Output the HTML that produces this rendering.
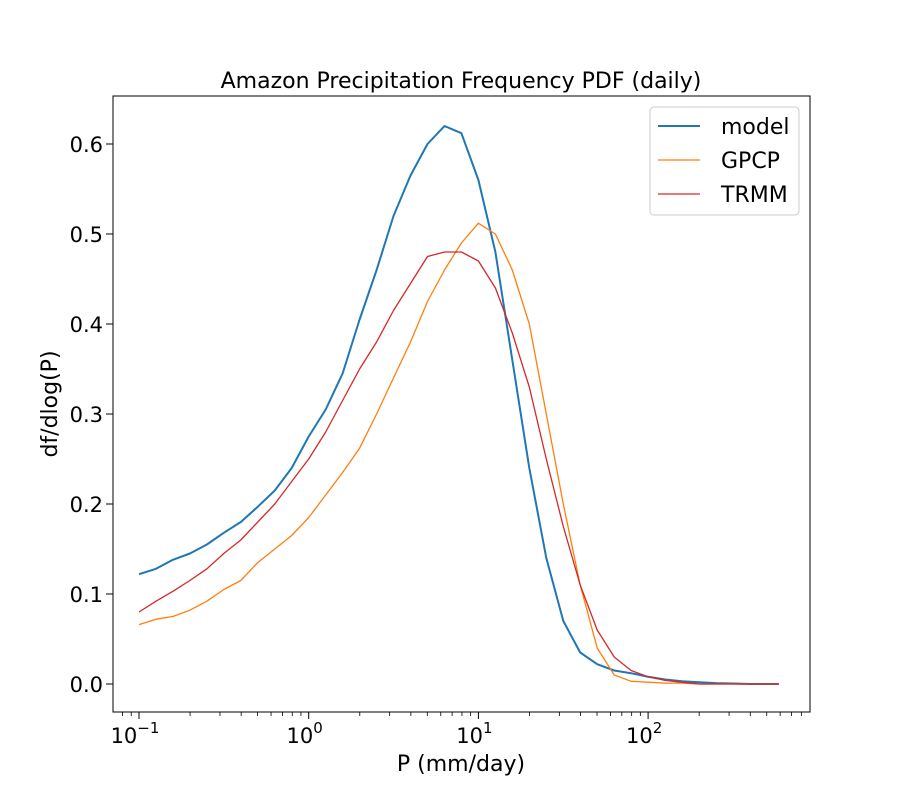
<!DOCTYPE html>
<html><head><meta charset="utf-8"><style>
body{margin:0;background:#fff}
svg{font-family:"DejaVu Sans","Liberation Sans",sans-serif}
</style></head><body>
<svg id="chart" width="900" height="800">
<rect width="900" height="800" fill="#fff"/>
<text x="461" y="88" font-size="22" text-anchor="middle">Amazon Precipitation Frequency PDF (daily)</text>
<g id="axes"></g>
<g id="series"></g>
<rect x="113" y="96" width="697" height="616" fill="none" stroke="#000" stroke-width="1"/>
<text x="461" y="771" font-size="22" text-anchor="middle">P (mm/day)</text>
<text transform="translate(57,404) rotate(-90)" font-size="22" text-anchor="middle">df/dlog(P)</text>
<g>
<rect x="650" y="107" width="149" height="108" rx="4" fill="#fff" stroke="#ccc"/>
<line x1="658" y1="126" x2="700" y2="126" stroke="#1f77b4" stroke-width="2"/>
<text x="721" y="134" font-size="22">model</text>
<line x1="658" y1="160" x2="700" y2="160" stroke="#ff7f0e" stroke-width="1.2"/>
<text x="721" y="168" font-size="22">GPCP</text>
<line x1="658" y1="194" x2="700" y2="194" stroke="#d62728" stroke-width="1.2"/>
<text x="721" y="202" font-size="22">TRMM</text>
</g>
</svg>
<script>
const logP = [-1,-0.9,-0.8,-0.7,-0.6,-0.5,-0.4,-0.3,-0.2,-0.1,0,0.1,0.2,0.3,0.4,0.5,0.6,0.7,0.8,0.9,1.0,1.1,1.2,1.3,1.4,1.5,1.6,1.7,1.8,1.9,2.0,2.1,2.2,2.3,2.4,2.5,2.6,2.7,2.77];
const model = [0.122,0.128,0.138,0.145,0.155,0.168,0.18,0.197,0.215,0.24,0.275,0.305,0.345,0.405,0.46,0.52,0.565,0.6,0.62,0.612,0.56,0.48,0.36,0.24,0.14,0.07,0.035,0.022,0.015,0.012,0.008,0.005,0.003,0.002,0.001,0.0005,0,0,0];
const gpcp = [0.066,0.072,0.075,0.082,0.092,0.105,0.115,0.135,0.15,0.165,0.185,0.21,0.235,0.262,0.3,0.34,0.38,0.425,0.46,0.49,0.512,0.5,0.46,0.4,0.3,0.2,0.11,0.04,0.01,0.003,0.002,0.001,0.001,0,0,0,0,0,0];
const trmm = [0.08,0.092,0.103,0.115,0.128,0.145,0.16,0.18,0.2,0.225,0.25,0.28,0.315,0.35,0.38,0.415,0.445,0.475,0.48,0.48,0.47,0.44,0.39,0.33,0.25,0.175,0.11,0.06,0.03,0.015,0.008,0.004,0.002,0,0,0,0,0,0];
const yTicks = [0.0,0.1,0.2,0.3,0.4,0.5,0.6];
const xTickExp = [-1,0,1,2];

const NS="http://www.w3.org/2000/svg";
const xs = l => 308.7 + 169.7*l;
const ys = v => 684 - 900*v;
const axes=document.getElementById('axes'), ser=document.getElementById('series');
function mk(tag,attrs,parent){const e=document.createElementNS(NS,tag);for(const k in attrs)e.setAttribute(k,attrs[k]);parent.appendChild(e);return e;}
yTicks.forEach(v=>{
  const t=mk('line',{x1:106,x2:113,y1:ys(v),y2:ys(v),stroke:'#000'},axes);
  
  
  const tx=mk('text',{x:103,y:ys(v)+8,'font-size':21,'text-anchor':'end'},axes);
  tx.textContent=v.toFixed(1);
  
  
});
xTickExp.forEach(e=>{
  const x=xs(e);
  const t=mk('line',{x1:x,x2:x,y1:712,y2:719,stroke:'#000'},axes);
  
  
  const tx=mk('text',{x:x-4,y:743,'font-size':21,'text-anchor':'middle'},axes);
  tx.textContent='10';
  const s=mk('tspan',{dy:-10,'font-size':15},tx);s.textContent=String(e).replace('-','\u2212');
  
  
});
for(let e=-2;e<=2;e++)for(let m=2;m<=9;m++){
  const x=xs(e+Math.log10(m)); if(x<113||x>810)continue;
  const t=mk('line',{x1:x,x2:x,y1:712,y2:716,stroke:'#000','stroke-width':0.8},axes);
  
  
}
function line(vals,color,w,name){
  const d=vals.map((v,i)=>(i?'L':'M')+xs(logP[i]).toFixed(1)+','+ys(v).toFixed(1)).join('');
  const p=mk('path',{d:d,fill:'none',stroke:color,'stroke-width':w,'stroke-linejoin':'round'},ser);
  
  
}
line(model,'#1f77b4',2,'model-line');
line(gpcp,'#ff7f0e',1.3,'gpcp-line');
line(trmm,'#d62728',1.3,'trmm-line');
</script>
</body></html>
